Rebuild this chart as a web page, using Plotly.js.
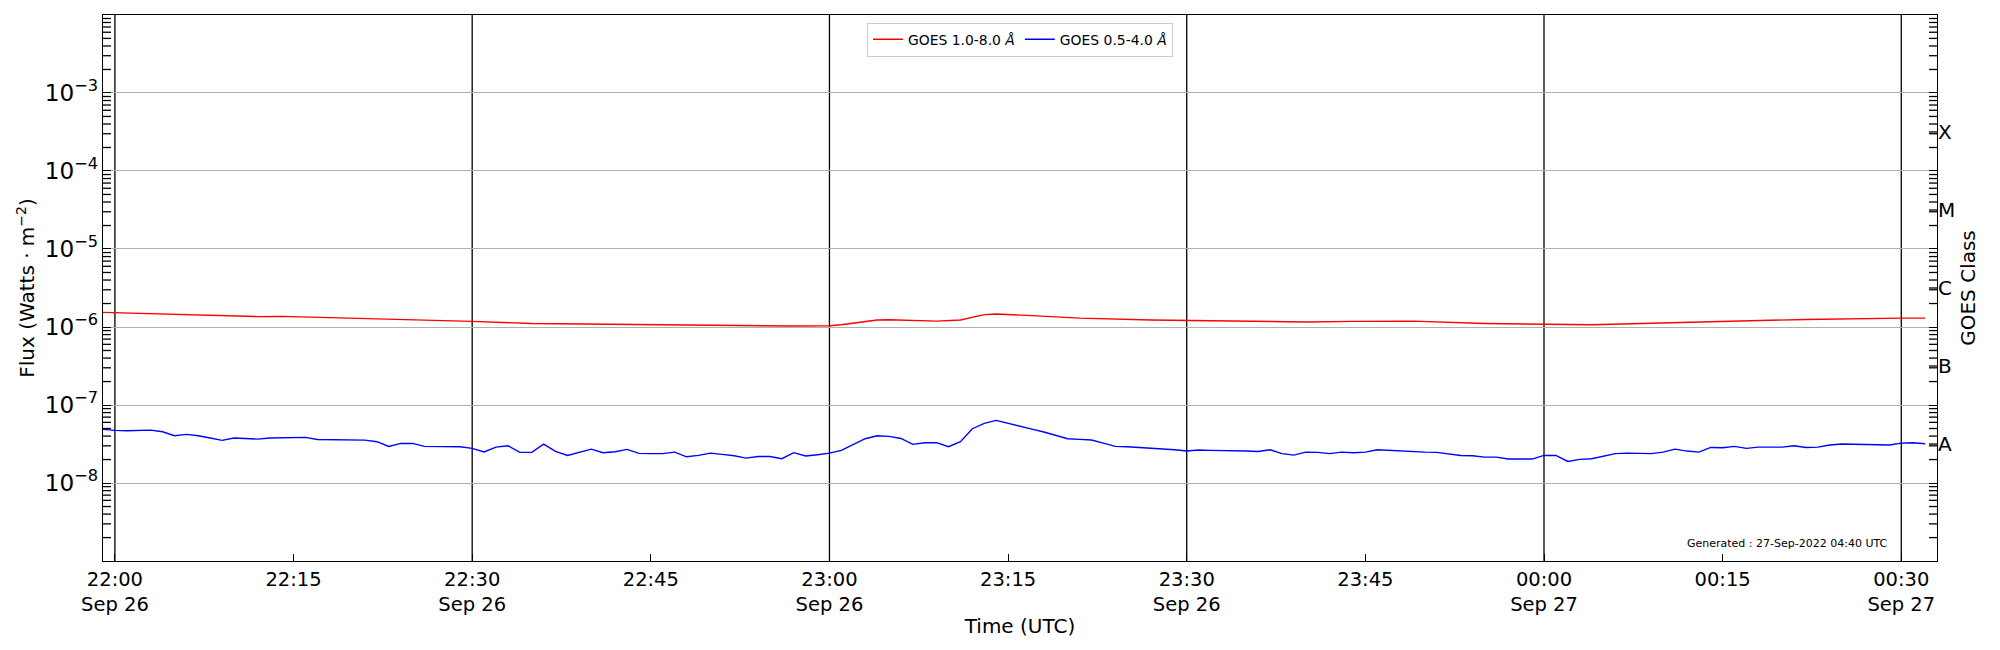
<!DOCTYPE html>
<html>
<head>
<meta charset="utf-8">
<script src="https://cdn.plot.ly/plotly-3.0.1.min.js"></script>
<style>html,body{margin:0;padding:0;background:#fff;}#chart{width:2000px;height:650px;}</style>
</head>
<body>
<div id="chart"></div>
<script>
// ---- data (minutes relative to 2022-09-26 22:00 UTC) ----
const baseTimeUTC = Date.UTC(2022, 8, 26, 22, 0, 0);

// GOES 1.0-8.0 Å (W/m^2), read at these minute offsets
const longMinutes = [-1, 4, 12, 14, 18, 23, 25, 30, 35, 38, 41, 48, 53, 57, 60, 61, 64, 65, 69, 71, 73, 74, 77, 81, 87, 90, 95, 100, 104, 109, 115, 120, 124, 134, 142, 150, 152];
const longFlux = [1.54e-6, 1.47e-6, 1.36e-6, 1.37e-6, 1.32e-6, 1.25e-6, 1.25e-6, 1.18e-6, 1.11e-6, 1.10e-6, 1.08e-6, 1.06e-6, 1.03e-6, 1.03e-6, 1.04e-6, 1.07e-6, 1.23e-6, 1.24e-6, 1.19e-6, 1.23e-6, 1.44e-6, 1.47e-6, 1.40e-6, 1.30e-6, 1.23e-6, 1.21e-6, 1.18e-6, 1.16e-6, 1.18e-6, 1.19e-6, 1.11e-6, 1.09e-6, 1.07e-6, 1.17e-6, 1.25e-6, 1.30e-6, 1.30e-6];

// GOES 0.5-4.0 Å (W/m^2), one-minute cadence starting at minute -1 (21:59)
const shortStartMinute = -1;
const shortFlux = [
  4.88e-8, 4.73e-8, 4.69e-8, 4.77e-8, 4.77e-8, 4.55e-8, 4.04e-8, 4.21e-8, 4.04e-8, 3.78e-8,
  3.52e-8, 3.78e-8, 3.73e-8, 3.66e-8, 3.78e-8, 3.81e-8, 3.83e-8, 3.85e-8, 3.62e-8, 3.59e-8,
  3.57e-8, 3.55e-8, 3.55e-8, 3.39e-8, 2.95e-8, 3.22e-8, 3.22e-8, 2.95e-8, 2.93e-8, 2.92e-8,
  2.92e-8, 2.78e-8, 2.50e-8, 2.89e-8, 3.01e-8, 2.47e-8, 2.47e-8, 3.16e-8, 2.55e-8, 2.26e-8,
  2.49e-8, 2.72e-8, 2.45e-8, 2.52e-8, 2.70e-8, 2.40e-8, 2.38e-8, 2.38e-8, 2.49e-8, 2.17e-8,
  2.26e-8, 2.42e-8, 2.33e-8, 2.24e-8, 2.09e-8, 2.19e-8, 2.19e-8, 2.05e-8, 2.45e-8, 2.22e-8,
  2.31e-8, 2.42e-8, 2.62e-8, 3.13e-8, 3.70e-8, 4.04e-8, 3.96e-8, 3.73e-8, 3.13e-8, 3.29e-8,
  3.29e-8, 2.92e-8, 3.39e-8, 4.97e-8, 5.82e-8, 6.36e-8, 5.88e-8, 5.43e-8, 4.92e-8, 4.51e-8,
  4.08e-8, 3.70e-8, 3.63e-8, 3.56e-8, 3.25e-8, 2.95e-8, 2.92e-8, 2.86e-8, 2.81e-8, 2.75e-8,
  2.67e-8, 2.57e-8, 2.65e-8, 2.62e-8, 2.62e-8, 2.57e-8, 2.57e-8, 2.54e-8, 2.67e-8, 2.38e-8,
  2.28e-8, 2.49e-8, 2.47e-8, 2.38e-8, 2.49e-8, 2.45e-8, 2.49e-8, 2.67e-8, 2.62e-8, 2.54e-8,
  2.52e-8, 2.49e-8, 2.47e-8, 2.35e-8, 2.26e-8, 2.24e-8, 2.15e-8, 2.15e-8, 2.03e-8, 2.03e-8,
  2.03e-8, 2.26e-8, 2.26e-8, 1.89e-8, 2.01e-8, 2.05e-8, 2.22e-8, 2.38e-8, 2.42e-8, 2.40e-8,
  2.38e-8, 2.49e-8, 2.72e-8, 2.57e-8, 2.49e-8, 2.86e-8, 2.84e-8, 2.95e-8, 2.78e-8, 2.89e-8,
  2.92e-8, 2.89e-8, 3.01e-8, 2.86e-8, 2.89e-8, 3.07e-8, 3.16e-8, 3.13e-8, 3.07e-8, 3.07e-8,
  3.07e-8, 3.25e-8, 3.29e-8, 3.19e-8
];

// axis ticks
const tickMinutes = [0, 15, 30, 45, 60, 75, 90, 105, 120, 135, 150];
const tickLabels = ['22:00<br>Sep 26', '22:15', '22:30<br>Sep 26', '22:45', '23:00<br>Sep 26', '23:15',
                    '23:30<br>Sep 26', '23:45', '00:00<br>Sep 27', '00:15', '00:30<br>Sep 27'];
const vlineMinutes = [0, 30, 60, 90, 120, 150];
const axisRangeMinutes = [-1, 153];
const decadeExponents = [-9, -8, -7, -6, -5, -4, -3];
const minorDigits = [2, 3, 4, 5, 6, 7, 8, 9];
const classLabels = ['X', 'M', 'C', 'B', 'A'];
const classExponents = [-3.5, -4.5, -5.5, -6.5, -7.5];
const legendNames = ['GOES 1.0-8.0 <i>Å</i>', 'GOES 0.5-4.0 <i>Å</i>'];
const generatedText = 'Generated : 27-Sep-2022 04:40 UTC';

// ---- helpers ----
function minToStr(m) {
  return new Date(baseTimeUTC + m * 60000).toISOString().replace('T', ' ').slice(0, 19);
}
const longTimes = longMinutes.map(minToStr);
const shortTimes = shortFlux.map((_, i) => minToStr(shortStartMinute + i));
const classFlux = classExponents.map(e => Math.pow(10, e));

const FONT = 'DejaVu Sans, Liberation Sans, sans-serif';
const W = 2000, H = 650;
const M = { l: 103, r: 63, t: 15, b: 89 };
const plotW = W - M.l - M.r;
const TICKLEN = 8;
const yRange = [-8.999, -2.001];

const traces = [
  { x: longTimes, y: longFlux, type: 'scatter', mode: 'lines', showlegend: false,
    line: { color: 'rgba(0,0,0,0)', width: 0 }, hoverinfo: 'skip', xaxis: 'x', yaxis: 'y2' },
  { x: longTimes, y: longFlux, type: 'scatter', mode: 'lines', name: legendNames[0],
    line: { color: '#ff0000', width: 1.4 }, xaxis: 'x', yaxis: 'y' },
  { x: shortTimes, y: shortFlux, type: 'scatter', mode: 'lines', name: legendNames[1],
    line: { color: '#0000ff', width: 1.4 }, xaxis: 'x', yaxis: 'y' }
];

const shapes = vlineMinutes.map(m => ({
  type: 'line', xref: 'x', yref: 'paper', x0: minToStr(m), x1: minToStr(m), y0: 0, y1: 1,
  line: { color: '#000000', width: 1.3 }, layer: 'below'
}));

// inside log ticks on both y spines (axis decoration, placed in paper units)
const tickFrac = TICKLEN / plotW;
function yTick(logv, side) {
  const yp = (logv - yRange[0]) / (yRange[1] - yRange[0]);
  const x0 = side === 'left' ? 0 : 1;
  const x1 = side === 'left' ? tickFrac : 1 - tickFrac;
  return { type: 'line', xref: 'paper', yref: 'paper', x0: x0, x1: x1, y0: yp, y1: yp,
           line: { color: '#000000', width: 1.3 }, layer: 'above' };
}
decadeExponents.forEach(e => {
  minorDigits.forEach(d => {
    const lv = Math.log10(d) + e;
    shapes.push(yTick(lv, 'left'));
    shapes.push(yTick(lv, 'right'));
  });
});
classExponents.forEach(e => shapes.push(yTick(e, 'right')));

const layout = {
  width: W, height: H,
  margin: M,
  paper_bgcolor: '#ffffff', plot_bgcolor: '#ffffff',
  font: { family: FONT, color: '#000000', size: 20 },
  showlegend: true,
  legend: {
    orientation: 'h', x: 0.5, xanchor: 'center', y: 0.986, yanchor: 'top',
    bgcolor: 'rgba(255,255,255,0.8)', bordercolor: '#cccccc', borderwidth: 1,
    itemwidth: 30,
    font: { family: FONT, size: 13.9, color: '#000000' }
  },
  xaxis: {
    type: 'date', range: axisRangeMinutes.map(minToStr),
    tickmode: 'array', tickvals: tickMinutes.map(minToStr), ticktext: tickLabels,
    ticks: 'inside', ticklen: 7, tickwidth: 1, tickcolor: '#000000',
    showline: true, linecolor: '#000000', linewidth: 1.3, mirror: true,
    showgrid: false, zeroline: false,
    tickfont: { family: FONT, size: 19.5 },
    title: { text: 'Time (UTC)', font: { family: FONT, size: 20 }, standoff: 4 }
  },
  yaxis: {
    type: 'log', range: yRange, dtick: 1, exponentformat: 'power', showexponent: 'all',
    ticks: 'inside', ticklen: TICKLEN, tickwidth: 1, tickcolor: '#000000',
    showline: true, linecolor: '#000000', linewidth: 1.3, mirror: 'ticks',
    showgrid: true, gridcolor: '#b0b0b0', gridwidth: 1, zeroline: false,
    tickfont: { family: FONT, size: 18.5 },
    title: { text: 'Flux (Watts · m<sup>−2</sup>)', font: { family: FONT, size: 20 }, standoff: 4 }
  },
  yaxis2: {
    type: 'log', range: yRange, overlaying: 'y', side: 'right', anchor: 'x',
    tickmode: 'array', tickvals: classFlux, ticktext: classLabels,
    ticks: '', showline: false, showgrid: false, zeroline: false,
    tickfont: { family: FONT, size: 20 },
    title: { text: 'GOES Class', font: { family: FONT, size: 20 }, standoff: 6 }
  },
  shapes: shapes,
  annotations: [{
    text: generatedText, xref: 'paper', yref: 'paper', x: 0.9746, y: 0.0317,
    xanchor: 'right', yanchor: 'middle', showarrow: false,
    font: { family: FONT, size: 11, color: '#000000' }
  }]
};

Plotly.newPlot('chart', traces, layout, { staticPlot: true, displayModeBar: false });
</script>
</body>
</html>
